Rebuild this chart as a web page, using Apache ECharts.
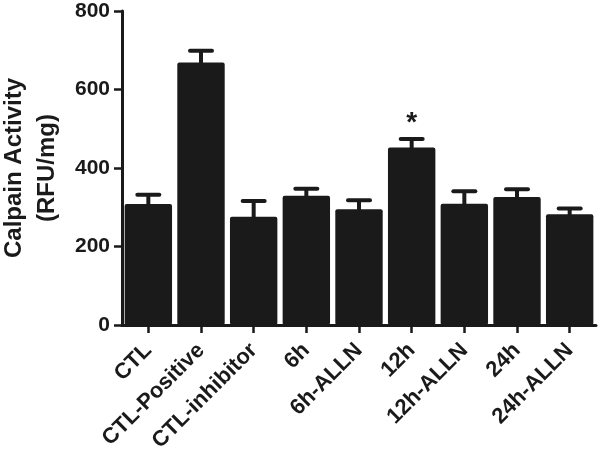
<!DOCTYPE html>
<html>
<head>
<meta charset="utf-8">
<script src="https://cdn.jsdelivr.net/npm/echarts@6/dist/echarts.min.js"></script>
<style>
  html, body { margin: 0; padding: 0; background: #fff; }
  #chart { width: 600px; height: 462px; }
</style>
</head>
<body>
<div id="chart"></div>
<script>
const categories = ['CTL', 'CTL-Positive', 'CTL-inhibitor', '6h', '6h-ALLN', '12h', '12h-ALLN', '24h', '24h-ALLN']
const means = [308, 669, 276, 329, 295, 452, 309, 326, 282]
const errors = [24, 30, 40, 18, 23, 22, 32, 20, 15]
const marks = ['', '', '', '', '', '*', '', '', '']
const yTicks = [0, 200, 400, 600, 800]

const ink = '#1a1a1a'
const font = 'Liberation Sans, Arial, sans-serif'

const chart = echarts.init(document.getElementById('chart'))

chart.setOption({
  animation: false,
  grid: { left: 122, right: 4, top: 11, bottom: 137, containLabel: false, outerBoundsMode: 'none' },
  xAxis: {
    type: 'category',
    data: categories,
    axisLine: { lineStyle: { color: ink, width: 3 } },
    axisTick: { show: true, alignWithLabel: true, length: 8, lineStyle: { color: ink, width: 2.5 } },
    axisLabel: {
      rotate: 45,
      margin: 22,
      interval: 0,
      color: ink,
      fontFamily: font,
      fontWeight: 'bold',
      fontSize: 22
    }
  },
  yAxis: {
    type: 'value',
    min: yTicks[0],
    max: yTicks[yTicks.length - 1],
    interval: 200,
    name: 'Calpain Activity\n(RFU/mg)',
    nameLocation: 'middle',
    nameRotate: 90,
    nameGap: 55,
    nameTextStyle: { color: ink, fontFamily: font, fontWeight: 'bold', fontSize: 24, lineHeight: 33 },
    axisLine: { show: true, lineStyle: { color: ink, width: 3 } },
    axisTick: { show: true, length: 8, lineStyle: { color: ink, width: 2.5 } },
    axisLabel: { color: ink, fontFamily: font, fontWeight: 'bold', fontSize: 21, margin: 12 },
    splitLine: { show: false }
  },
  series: [
    {
      type: 'bar',
      data: means,
      barCategoryGap: '10%',
      itemStyle: { color: ink, borderRadius: 2 }
    },
    {
      // error bars (upper only) + significance mark
      type: 'custom',
      z: 5,
      data: means.map((m, i) => [i, m, errors[i]]),
      renderItem: (params, api) => {
        const idx = api.value(0)
        const base = api.coord([idx, api.value(1)])
        const top = api.coord([idx, api.value(1) + api.value(2)])
        const capW = 26
        const children = [
          { type: 'rect', shape: { x: base[0] - 2, y: top[1], width: 4, height: base[1] - top[1] + 1 }, style: { fill: ink } },
          { type: 'rect', shape: { x: base[0] - capW / 2, y: top[1] - 2, width: capW, height: 4, r: 2 }, style: { fill: ink } }
        ]
        const mark = marks[idx]
        if (mark) {
          children.push({
            type: 'text',
            x: base[0],
            y: top[1] - 2,
            style: { text: mark, fill: ink, font: 'bold 28px ' + font, align: 'center', verticalAlign: 'bottom' }
          })
        }
        return { type: 'group', children }
      }
    }
  ]
})
chart.getZr().flush()
</script>
</body>
</html>
